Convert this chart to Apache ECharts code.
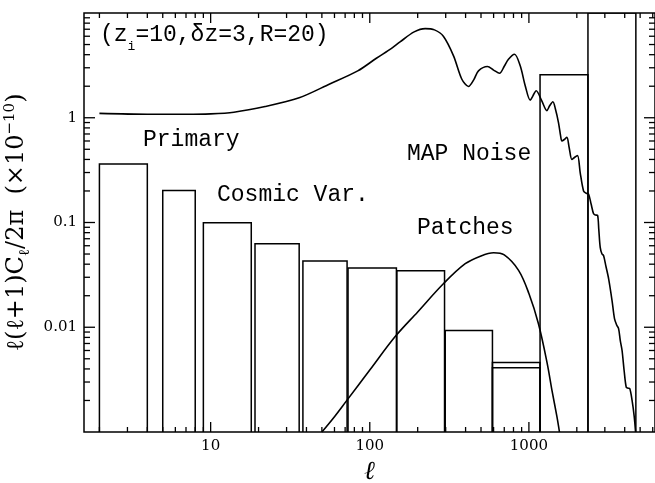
<!DOCTYPE html>
<html><head><meta charset="utf-8">
<script src="https://cdn.jsdelivr.net/npm/echarts@6/dist/echarts.min.js"></script>
<style>html,body{margin:0;padding:0;background:#fff}#c{width:655px;height:483px}</style>
</head><body><div id="c"></div>
<script>
// ---- axis settings / tick labels ----
const xMin = 1.6, xMax = 6200;
const yMin = 0.001, yMax = 10;
const xTickLabels = [10, 100, 1000];
const yTickLabels = [0.01, 0.1, 1];
const xMinorTicks = [2,3,4,5,6,7,8,9,20,30,40,50,60,70,80,90,200,300,400,500,600,700,800,900,2000,3000,4000,5000,6000];
const yMajorTicks = [0.01, 0.1, 1];
const yMinorTicks = [0.002,0.003,0.004,0.005,0.006,0.007,0.008,0.009,0.02,0.03,0.04,0.05,0.06,0.07,0.08,0.09,0.2,0.3,0.4,0.5,0.6,0.7,0.8,0.9,2,3,4,5,6,7,8,9];

// ---- primary CMB spectrum ----
const primaryL = [2,4,7,10,14,22,36,56,84,110,137,155,190,223,255,290,336,379,417,450,482,549,600,654,700,744,812,882,948,1019,1060,1111,1205,1297,1350,1414,1470,1534,1580,1612,1670,1733,1790,1863,1940,2022,2100,2205,2290,2370,2460,2549,2620,2700,2750,2806,2880,2945,3050,3170,3330,3450,3560,3660,3750,3850,3970,4090,4200,4300,4450,4590,4680];
const primaryC = [1.10,1.08,1.08,1.09,1.13,1.28,1.55,2.1,2.8,3.7,4.6,5.3,6.6,7.1,6.9,6.0,3.9,2.33,1.99,2.3,2.8,3.08,2.85,2.66,3.1,3.62,4.04,3.13,2.02,1.47,1.62,1.81,1.45,1.17,1.3,1.42,1.2,0.9,0.68,0.60,0.62,0.65,0.52,0.40,0.42,0.435,0.30,0.20,0.19,0.187,0.15,0.121,0.118,0.117,0.085,0.058,0.05,0.0485,0.038,0.029,0.018,0.0121,0.0105,0.0097,0.0075,0.006,0.0038,0.00267,0.00262,0.0026,0.002,0.0014,0.001];

// ---- patches spectrum ----
const patchesL = [50,60,71,100,144,200,290,398,500,600,700,861,1000,1148,1300,1396,1500,1556];
const patchesC = [0.001,0.0014,0.00196,0.0039,0.0081,0.014,0.026,0.0404,0.048,0.0514,0.049,0.0349,0.021,0.0108,0.0046,0.0025,0.0014,0.001];

// ---- cosmic variance bands ----
const cvLo  = [2,5,9,19,38,73,148,298,590,590];
const cvHi  = [4,8,18,36,72,147,295,590,1175,1175];
const cvVal = [0.362,0.202,0.0993,0.0627,0.0428,0.0367,0.0347,0.0093,0.0046,0.0041];

// ---- MAP noise bands ----
const noiseLo  = [1175, 2350];
const noiseHi  = [2350, 4700];
const noiseVal = [2.57, 30];

const FONT = 'DejaVu Serif';
const MONO = '23px "Liberation Mono"';
const chart = echarts.init(document.getElementById('c'));

function boxRender(params, api) {
  const lo = api.value(0), hi = api.value(1), top = api.value(2);
  const cs = params.coordSys;
  const p0 = api.coord([lo, yMin]);
  const p1 = api.coord([hi, top]);
  let yTop = Math.max(p1[1], cs.y);
  const pts = [[p0[0], cs.y + cs.height], [p0[0], yTop], [p1[0], yTop], [p1[0], cs.y + cs.height]];
  return { type: 'polyline', shape: { points: pts }, style: { fill: null, stroke: '#000', lineWidth: 1.5 } };
}

const tickData = [];
xTickLabels.forEach(v => tickData.push([v, 0, 1]));
xMinorTicks.forEach(v => tickData.push([v, 0, 0]));
yMajorTicks.forEach(v => tickData.push([v, 1, 1]));
yMinorTicks.forEach(v => tickData.push([v, 1, 0]));

function tickRender(params, api) {
  const v = api.value(0), axis = api.value(1), major = api.value(2);
  const cs = params.coordSys;
  const st = { stroke: '#000', lineWidth: 1.3 };
  if (axis === 0) {
    const x = api.coord([v, yMin])[0];
    const len = major ? 10 : 5;
    return { type: 'group', children: [
      { type: 'line', shape: { x1: x, y1: cs.y + cs.height, x2: x, y2: cs.y + cs.height - len }, style: st },
      { type: 'line', shape: { x1: x, y1: cs.y, x2: x, y2: cs.y + len }, style: st }
    ]};
  } else {
    const y = api.coord([xMin, v])[1];
    const len = major ? 11 : 6;
    return { type: 'group', children: [
      { type: 'line', shape: { x1: cs.x, y1: y, x2: cs.x + len, y2: y }, style: st },
      { type: 'line', shape: { x1: cs.x + cs.width, y1: y, x2: cs.x + cs.width - len, y2: y }, style: st }
    ]};
  }
}

function near(v, list) {
  for (const t of list) if (Math.abs(Math.log10(v) - Math.log10(t)) < 1e-6) return String(t);
  return '';
}

function label(text, x, y, rich) {
  const s = { text, font: MONO, fill: '#000', textVerticalAlign: 'middle', verticalAlign: 'middle' };
  if (rich) s.rich = rich;
  return { type: 'text', x, y, style: s };
}

const option = {
  animation: false,
  backgroundColor: '#fff',
  grid: { left: 84, right: 0, top: 13, bottom: 51, containLabel: false, outerBoundsMode: 'none',
          show: true, borderColor: '#000', borderWidth: 1.5, backgroundColor: 'transparent' },
  xAxis: {
    type: 'log', logBase: 10, min: xMin, max: xMax,
    name: 'ℓ', nameLocation: 'middle', nameGap: 27,
    nameTextStyle: { fontFamily: FONT, fontSize: 26, fontStyle: 'italic', color: '#000' },
    axisLine: { show: false }, axisTick: { show: false }, splitLine: { show: false },
    axisLabel: { margin: 7, color: '#000', fontFamily: FONT, fontSize: 15, formatter: v => near(v, xTickLabels) }
  },
  yAxis: {
    type: 'log', logBase: 10, min: yMin, max: yMax,
    name: 'ℓ(ℓ+1)C{sub|ℓ}/2π  (×10{sup|−10})', nameLocation: 'middle', nameRotate: 90, nameGap: 44,
    nameTextStyle: { fontFamily: FONT, fontSize: 24, color: '#000',
      rich: {
        sub: { fontFamily: FONT, fontSize: 15, color: '#000', verticalAlign: 'bottom', padding: [0,0,-4,0] },
        sup: { fontFamily: FONT, fontSize: 15, color: '#000', verticalAlign: 'top', padding: [-2,0,0,0] }
      } },
    axisLine: { show: false }, axisTick: { show: false }, splitLine: { show: false },
    axisLabel: { margin: 7, color: '#000', fontFamily: FONT, fontSize: 15, formatter: v => near(v, yTickLabels) }
  },
  graphic: [
    label('(z{sub|i}=10,δz=3,R=20)', 100, 35, { sub: { fontSize: 13, fontFamily: 'Liberation Mono', verticalAlign: 'bottom', padding: [0,0,-7,0] } }),
    label('Primary', 143, 140),
    label('Cosmic Var.', 217, 195),
    label('MAP Noise', 407, 154),
    label('Patches', 417, 228)
  ],
  series: [
    { type: 'custom', name: 'Cosmic Var.', renderItem: boxRender, clip: true,
      data: cvLo.map((v, i) => [v, cvHi[i], cvVal[i]]), z: 3 },
    { type: 'custom', name: 'MAP Noise', renderItem: boxRender, clip: true,
      data: noiseLo.map((v, i) => [v, noiseHi[i], noiseVal[i]]), z: 3 },
    { type: 'line', name: 'Primary', data: primaryL.map((v, i) => [v, primaryC[i]]), showSymbol: false, smooth: 0.3,
      lineStyle: { color: '#000', width: 1.6 }, z: 4, clip: true },
    { type: 'line', name: 'Patches', data: patchesL.map((v, i) => [v, patchesC[i]]), showSymbol: false, smooth: 0.35,
      lineStyle: { color: '#000', width: 1.6 }, z: 4, clip: true },
    { type: 'custom', name: 'ticks', renderItem: tickRender, data: tickData, z: 5, silent: true }
  ]
};
chart.setOption(option);
</script>
</body></html>
